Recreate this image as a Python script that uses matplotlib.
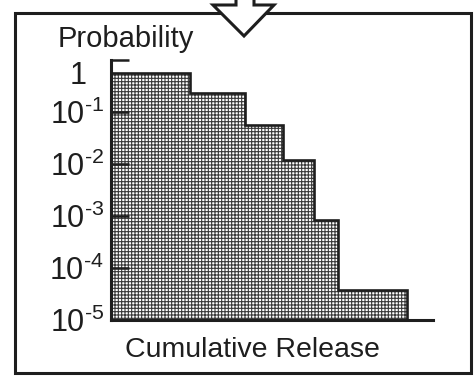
import matplotlib.pyplot as plt
import matplotlib.transforms as mtransforms
from matplotlib.patches import Rectangle, Polygon

plt.rcParams['font.family'] = ['Liberation Sans', 'DejaVu Sans']
plt.rcParams['mathtext.fontset'] = 'custom'
plt.rcParams['mathtext.rm'] = 'Liberation Sans'
plt.rcParams['mathtext.it'] = 'Liberation Sans'
plt.rcParams['hatch.linewidth'] = 0.8

# step edges along the release axis (no scale shown) and probabilities
release_edges = [0, 2.45, 4.16, 5.34, 6.30, 7.05, 9.19]
probability = [0.56, 0.23, 0.056, 0.012, 8.4e-4, 3.8e-5]
tick_values = [1, 1e-1, 1e-2, 1e-3, 1e-4, 1e-5]
tick_labels = ['1'] + [r'$10^{\text{-}%d}$' % k for k in range(1, 6)]

W, H = 474, 381
fig = plt.figure(figsize=(W / 100, H / 100), dpi=100)


def fx(px):
    return px / W


def fy(py):
    return 1 - py / H


ax = fig.add_axes([fx(111), fy(320), fx(433) - fx(111), fy(60) - fy(320)])
ax.set_yscale('log')
ax.set_ylim(1e-5, 1)
ax.set_xlim(0, 10)

# hatched fill + outline
ax.stairs(probability, release_edges, baseline=1e-5, fill=True,
          facecolor='white', edgecolor='#3a3a3a', linewidth=0, hatch='+++++')
ax.stairs(probability, release_edges, baseline=1e-5, color='#1e1e1e', linewidth=1.9)

ax.set_yticks(tick_values)
ax.set_yticklabels(tick_labels)
ax.minorticks_off()
ax.tick_params(axis='y', direction='in', length=13, width=1.8, color='#1e1e1e',
               labelsize=22, pad=5, labelcolor='#1e1e1e')
ax.set_xticks([])
ax.spines[['top', 'right']].set_visible(False)
for s in ['left', 'bottom']:
    ax.spines[s].set_linewidth(2.2)
    ax.spines[s].set_color('#1e1e1e')

# nudge the "1" label down/left like the original
lab = ax.get_yticklabels()[0]
lab.set_transform(lab.get_transform() + mtransforms.ScaledTranslation(-0.17, -0.13, fig.dpi_scale_trans))

fig.text(fx(58), fy(47), 'Probability', fontsize=21, color='#1e1e1e', ha='left', va='baseline')
fig.text(fx(252), fy(357), 'Cumulative Release', fontsize=20.5, color='#1e1e1e', ha='center', va='baseline')

# outer frame and arrow
fig.patches.append(Rectangle((fx(15), fy(373)), fx(471) - fx(15), fy(13) - fy(373),
                             transform=fig.transFigure, fill=False, edgecolor='#1e1e1e',
                             linewidth=2.2, zorder=5))
arrow = [(236, -5), (236, 5), (213, 5), (244, 36), (274, 5), (254, 5), (254, -5)]
fig.patches.append(Polygon([(fx(x), fy(y)) for x, y in arrow], closed=True,
                           transform=fig.transFigure, facecolor='white', edgecolor='#1e1e1e',
                           linewidth=2.2, zorder=6))

fig.savefig('out.png', dpi=100)
